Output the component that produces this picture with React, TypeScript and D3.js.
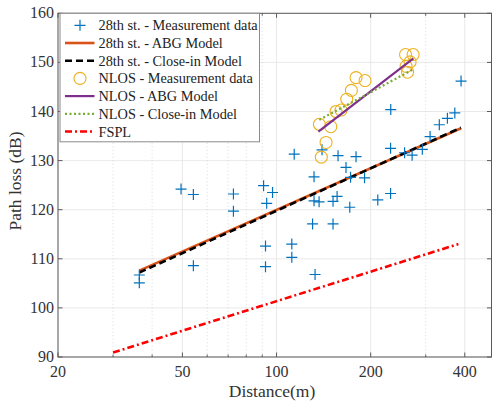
import React from 'react';
import * as d3 from 'd3';

// 28th st. measurements (distance m, path loss dB)
const streetDist = [36.4, 36.4, 49.5, 54.2, 54.2, 72.8, 72.8, 90.9, 97.1, 93.0, 92.2, 92.2, 111.9, 111.9,
  113.9, 139.8, 157.3, 179.6, 166.8, 131.8, 172.5, 191.2, 131.8, 136.8, 151.6, 156.2, 171.5, 130.4, 151.6,
  132.8, 210.8, 231.6, 231.9, 231.6, 256.8, 271.4, 292.6, 309.8, 331.6, 352.0, 371.7, 389.2];
const streetLoss = [106.7, 105.1, 124.2, 123.1, 108.6, 123.2, 119.7, 124.9, 123.5, 121.3, 112.6, 108.4, 113.0, 110.3,
  131.3, 132.2, 131.0, 130.8, 128.6, 126.7, 126.6, 126.5, 121.8, 121.6, 121.7, 122.7, 120.5, 117.1, 117.1,
  106.8, 122.0, 123.3, 140.4, 132.5, 131.6, 131.1, 132.3, 134.9, 137.3, 138.6, 139.7, 146.2];

// NLOS measurements
const nlosDist = [137.1, 149.1, 144.0, 139.1, 155.0, 160.8, 167.7, 173.5, 179.6, 191.9, 258.6, 273.4, 267.4, 259.6, 262.5];
const nlosLoss = [137.4, 136.9, 133.7, 130.7, 140.0, 140.3, 142.5, 144.3, 146.9, 146.3, 151.6, 151.6, 150.1, 149.2, 148.0];

// model lines (end points)
const streetAbgDist = [36.4, 389];
const streetAbgLoss = [107.6, 136.6];
const streetCiDist = [36.4, 389];
const streetCiLoss = [107.2, 136.7];
const nlosAbgDist = [136.1, 274];
const nlosAbgLoss = [135.9, 150.8];
const nlosCiDist = [137, 274];
const nlosCiLoss = [138.3, 148.6];
const fsplDist = [30, 381.6];
const fsplLoss = [90.9, 113.0];

const xMajor = [20, 50, 100, 200, 400];
const xMinor = [30, 40, 60, 70, 80, 90, 300];
const yTicks = [90, 100, 110, 120, 130, 140, 150, 160];

const legendLabels = [
  '28th st. - Measurement data',
  '28th st. - ABG Model',
  '28th st. - Close-in Model',
  'NLOS - Measurement data',
  'NLOS - ABG Model',
  'NLOS - Close-in Model',
  'FSPL',
];

const W = 493;
const H = 405;
const L = 58, R = 491.5, T = 13.3, B = 357;

const blue = '#0072BD';
const orange = '#D95319';
const yellow = '#EDB120';
const purple = '#7E2F8E';
const green = '#77AC30';
const red = '#FF0000';
const font = 'Liberation Serif, serif';

const plus = 'M-5.5,0H5.5M0,-5.5V5.5';

export default function App() {
  const x = d3.scaleLog().domain([20, 487]).range([L, R]);
  const y = d3.scaleLinear().domain([90, 160]).range([B, T]);
  const line = (ds: number[], ls: number[]) =>
    d3.line<number>().x((_, i) => x(ds[i])).y((v) => y(v))(ls) || '';

  const lineStyles = [
    null,
    { stroke: orange, w: 2.6, dash: undefined },
    { stroke: '#000', w: 2.6, dash: '7,4' },
    null,
    { stroke: purple, w: 2.2, dash: undefined },
    { stroke: green, w: 2.2, dash: '2,2.5' },
    { stroke: red, w: 2.6, dash: '7,3,2,3' },
  ];

  const legX = 60, legY = 13.3, legW = 199.5, legH = 128.5, rowH = 17.7;

  return (
    <svg width={W} height={H} style={{ position: 'absolute', left: 0, top: 0, background: '#fff' }}
      fontFamily={font}>
      <rect x={0} y={0} width={W} height={H} fill="#fff" />
      {/* grid */}
      {yTicks.map((t) => (
        <line key={'gy' + t} x1={L} x2={R} y1={y(t)} y2={y(t)} stroke="#e3e3e3" strokeWidth={0.8} />
      ))}
      {xMajor.map((t) => (
        <line key={'gx' + t} x1={x(t)} x2={x(t)} y1={T} y2={B} stroke="#e3e3e3" strokeWidth={0.8} />
      ))}
      {xMinor.map((t) => (
        <line key={'gm' + t} x1={x(t)} x2={x(t)} y1={T} y2={B} stroke="#d0d0d0" strokeWidth={0.8}
          strokeDasharray="1,2.5" />
      ))}

      {/* model lines */}
      <path d={line(fsplDist, fsplLoss)} fill="none" stroke={red} strokeWidth={2.6} strokeDasharray="7,3,2,3" />
      <path d={line(streetAbgDist, streetAbgLoss)} fill="none" stroke={orange} strokeWidth={2.6} />
      <path d={line(streetCiDist, streetCiLoss)} fill="none" stroke="#000" strokeWidth={2.6} strokeDasharray="7,4" />

      {/* measurements */}
      {streetDist.map((d, i) => (
        <path key={'s' + i} d={plus} transform={`translate(${x(d)},${y(streetLoss[i])})`}
          stroke={blue} strokeWidth={1.2} fill="none" />
      ))}
      {nlosDist.map((d, i) => (
        <circle key={'n' + i} cx={x(d)} cy={y(nlosLoss[i])} r={6} fill="none" stroke={yellow} strokeWidth={1.1} />
      ))}
      <path d={line(nlosAbgDist, nlosAbgLoss)} fill="none" stroke={purple} strokeWidth={2.2} />
      <path d={line(nlosCiDist, nlosCiLoss)} fill="none" stroke={green} strokeWidth={2.2} strokeDasharray="2,2.5" />

      {/* axes box */}
      <rect x={L} y={T} width={R - L} height={B - T} fill="none" stroke="#5a5a5a" strokeWidth={1} />
      {yTicks.map((t) => (
        <g key={'ty' + t}>
          <line x1={L} x2={L + 4.5} y1={y(t)} y2={y(t)} stroke="#5a5a5a" />
          <line x1={R} x2={R - 4.5} y1={y(t)} y2={y(t)} stroke="#5a5a5a" />
          <text x={L - 4} y={y(t) + 5} textAnchor="end" fontSize={16} fill="#333">{t}</text>
        </g>
      ))}
      {xMajor.map((t) => (
        <g key={'tx' + t}>
          <line x1={x(t)} x2={x(t)} y1={B} y2={B - 4.5} stroke="#5a5a5a" />
          <line x1={x(t)} x2={x(t)} y1={T} y2={T + 4.5} stroke="#5a5a5a" />
          <text x={x(t)} y={B + 20} textAnchor="middle" fontSize={16} fill="#333">{t}</text>
        </g>
      ))}
      {xMinor.map((t) => (
        <g key={'tm' + t}>
          <line x1={x(t)} x2={x(t)} y1={B} y2={B - 2.5} stroke="#5a5a5a" />
          <line x1={x(t)} x2={x(t)} y1={T} y2={T + 2.5} stroke="#5a5a5a" />
        </g>
      ))}
      <text x={272} y={397} textAnchor="middle" fontSize={17.5} fill="#333">Distance(m)</text>
      <text transform={`translate(21,181) rotate(-90)`} textAnchor="middle" fontSize={17.5} fill="#333">
        Path loss (dB)
      </text>

      {/* legend */}
      <rect x={legX} y={legY} width={legW} height={legH} fill="#fff" stroke="#8a8a8a" strokeWidth={1} />
      {legendLabels.map((lab, i) => {
        const cy = legY + 12 + i * rowH;
        const st = lineStyles[i];
        return (
          <g key={'lg' + i}>
            {i === 0 && <path d={plus} transform={`translate(80,${cy})`} stroke={blue} strokeWidth={1.2} fill="none" />}
            {i === 3 && <circle cx={80} cy={cy} r={6} fill="none" stroke={yellow} strokeWidth={1.1} />}
            {st && (
              <line x1={65} x2={94.5} y1={cy} y2={cy} stroke={st.stroke} strokeWidth={st.w}
                strokeDasharray={st.dash} />
            )}
            <text x={98.5} y={cy + 5} fontSize={14.3} fill="#222">{lab}</text>
          </g>
        );
      })}
    </svg>
  );
}
